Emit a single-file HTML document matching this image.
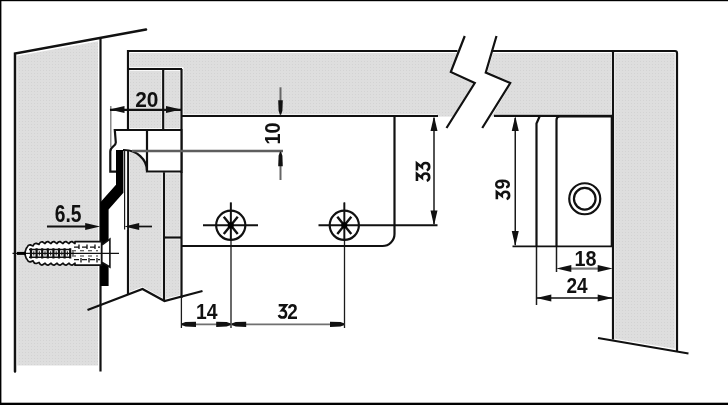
<!DOCTYPE html>
<html><head><meta charset="utf-8">
<style>
html,body{margin:0;padding:0;background:#fff;}
body{width:728px;height:405px;overflow:hidden;font-family:"Liberation Sans",sans-serif;}
svg{display:block;position:absolute;left:0;top:0;}
text{font-family:"Liberation Sans",sans-serif;font-size:22px;font-weight:bold;fill:#111;}
.k{stroke:#111;stroke-width:2.2;fill:none;stroke-linecap:butt;stroke-linejoin:miter;}
.t{stroke:#1a1a1a;stroke-width:1.5;fill:none;}
.g{stroke:#666;stroke-width:1.7;fill:none;}
.f{fill:url(#dots);stroke:none;}
.ah{fill:#111;stroke:none;}
</style></head><body>
<svg width="728" height="405" viewBox="0 0 728 405">
<defs>
<pattern id="dots" width="3" height="3" patternUnits="userSpaceOnUse">
<rect width="3" height="3" fill="#dedede"/><rect x="1" y="1" width="1" height="1" fill="#d3d3d3"/>
</pattern>
</defs>
<rect x="0" y="0" width="728" height="405" fill="#fff"/>
<!-- gray fills -->
<polygon class="f" points="17.2,56 98,41.3 98,365.5 17.2,365.5"/>
<rect class="f" x="130" y="53" width="481" height="14.2"/>
<rect class="f" x="183.5" y="53" width="427.5" height="61.4"/>
<rect class="f" x="130" y="70.8" width="31.5" height="57.4"/>
<rect class="f" x="165" y="70.8" width="14.8" height="57.4"/>
<polygon class="f" points="130,152 147,152 147,173.3 161.8,173.3 161.8,297.5 142.5,286.8 130,291.5"/>
<rect class="f" x="165.8" y="173.3" width="14" height="62.5"/>
<polygon class="f" points="165.8,239.3 179.8,239.3 179.8,295 165.8,298.5"/>
<polygon class="f" points="615,53 674.8,53 674.8,348.8 615,338.8"/>
<rect class="f" x="437" y="112" width="58" height="4.6"/>
<!-- white gap of break -->
<polygon fill="#fff" points="463.5,36 449,72.7 473,83.5 452,117.5 491,117.5 512,82.5 487.5,71.8 498,36"/>
<!-- frame border -->
<rect x="0" y="0" width="728" height="1.2" fill="#000"/>
<rect x="0" y="0" width="1.4" height="405" fill="#000"/>
<rect x="0" y="402.7" width="728" height="2.3" fill="#000"/>
<!-- door -->
<path class="k" style="stroke-width:2.5;stroke-linecap:round" d="M15,371.5 V53.5 L146,29.5"/>
<path class="k" d="M100.5,37.5 V371.5"/>
<!-- cabinet -->
<path class="k" d="M128,295 V51 H457.5"/>
<path class="k" d="M491.5,51 H675 Q677,51 677,53 V351.5"/>
<path class="k" d="M128,69 H182"/>
<path class="k" d="M163.2,69 V130"/>
<path class="k" d="M181.5,69 V298"/>
<path class="k" d="M181.5,116 H438"/>
<path class="k" d="M494,115.9 H613"/>
<path class="k" d="M613,51 V339.5"/>
<path class="k" d="M464.75,36 L450.75,72 L474.75,83 L446.5,128"/>
<path class="k" d="M496.5,36 L485.75,72.5 L510.25,83 L482.25,128"/>
<!-- mounting plate -->
<path class="k" d="M394.5,115 V234 A12,12 0 0 1 382.5,246 H181.5"/>
<!-- cabinet side lower -->
<path class="k" d="M164,171.5 V301"/>
<path class="k" d="M164,237.5 H181.5"/>
<path class="k" d="M87.5,310 L142.5,289 L164.5,301 L202.5,291"/>
<!-- hinge body -->
<path d="M115,130 H181.5 V171.5 H147 V171 A23,21 0 0 0 124,150 H117 V171.5 H110.5 V151 C110.3,146 115.8,147 115.8,142.5 Z" fill="#fff" stroke="#fff" stroke-width="1.6"/>
<rect x="123.5" y="150" width="3.6" height="80" fill="#fff"/>
<path class="k" d="M182,130 H114.8 L115.8,142.5 C115.8,147 110.3,146 110.3,151.5 V171.6 H116"/>
<path class="k" d="M147,130 V171.5 H181.5"/>
<path class="k" d="M123,150 H124 A23,21 0 0 1 147,171"/>
<path class="k" d="M181.5,129 V173"/>
<path d="M116,150 H123.4 V192.7 L108.6,209.5 V286 H100.2 V202.6 L116,184.8 Z" fill="#000"/>
<path class="t" style="stroke-width:1.2" d="M124.6,150 V229.5"/>
<!-- right block -->
<path class="k" d="M540,115.5 L536.5,123.5 V246"/>
<path class="t" d="M536.5,246 V305"/>
<path class="t" d="M556.5,246 V272"/>
<path class="k" d="M556.5,246 V120 Q556.5,116.5 560,116.5 H611.8 V246"/>
<path class="t" style="stroke-width:1.7;stroke:#111" d="M512.5,246.3 H613"/>
<circle class="k" cx="584.75" cy="198.75" r="15.5"/>
<circle class="k" cx="584.75" cy="198.75" r="10.8"/>
<path class="k" d="M598,338 L688.5,353.5"/>
<!-- dimensions -->
<g opacity="0.999">
<path class="g" style="stroke-width:1.3;stroke:#777" d="M110.8,106 V147"/>
<path class="k" d="M110,109.8 H181"/>
<polygon class="ah" points="109.5,109.5 124.5,106.0 124.5,113.0"/>
<polygon class="ah" points="181,109.5 166,106.0 166,113.0"/>
<text transform="translate(146.8,107.2) scale(0.95,1)" text-anchor="middle">20</text>
<path class="g" style="stroke:#5e5e5e;stroke-width:2.4" d="M132,151 H283"/>
<path class="g" style="stroke-width:2" d="M280.5,87.3 V101"/>
<path class="g" style="stroke-width:2" d="M280.5,165 V180"/>
<polygon class="ah" points="279.9,114.8 278.6,110.8 278.2,100.3 282.8,100.3 282.4,110.8 281.1,114.8"/>
<polygon class="ah" points="279.9,151.8 278.6,155.8 278.2,166.3 282.8,166.3 282.4,155.8 281.1,151.8"/>
<text transform="translate(280.3,133.5) rotate(-90) scale(0.9,1)" text-anchor="middle">10</text>
<path class="k" d="M47,226.5 H88"/>
<path class="k" style="stroke-width:1.7" d="M136,226.5 H152"/>
<polygon class="ah" points="100.2,226.5 85.2,223.0 85.2,230.0"/>
<polygon class="ah" points="124.2,226.5 139.2,223.0 139.2,230.0"/>
<text transform="translate(68.1,222.4) scale(0.875,1.1)" text-anchor="middle">6.5</text>
<path class="t" style="stroke-width:1.3" d="M181.4,296 V328"/>
<path class="t" style="stroke-width:1.3" d="M231,202.5 V328"/>
<path class="t" style="stroke-width:1.3" d="M344.5,202.5 V328"/>
<path class="g" style="stroke:#707070" d="M182,324.3 H344.5"/>
<polygon class="ah" points="181.5,323.6 185.5,322.1 196.0,321.7 196.0,326.9 185.5,326.5 181.5,325.0"/>
<polygon class="ah" points="230.7,323.6 226.7,322.1 216.2,321.7 216.2,326.9 226.7,326.5 230.7,325.0"/>
<polygon class="ah" points="231.7,323.6 235.7,322.1 246.2,321.7 246.2,326.9 235.7,326.5 231.7,325.0"/>
<polygon class="ah" points="344.5,323.6 340.5,322.1 330.0,321.7 330.0,326.9 340.5,326.5 344.5,325.0"/>
<text transform="translate(206.7,319.1) scale(0.88,1)" text-anchor="middle">14</text>
<path transform="translate(278.2,303.8) scale(1,1.04)" d="M0.5,1.4 H7.7 L3.9,6.1 C6.4,5.9 7.9,7.6 7.9,9.7 C7.9,11.9 6.4,13.2 4.3,13.2 C2.5,13.2 1.2,12.4 0.6,10.8" fill="none" stroke="#111" stroke-width="2.5" stroke-linejoin="miter" stroke-linecap="butt"/>
<text transform="translate(292.6,319.0) scale(0.86,1)" text-anchor="middle">2</text>
<path class="t" d="M434,118 V224"/>
<polygon class="ah" points="434,116 430.5,131 437.5,131"/>
<polygon class="ah" points="434,225.5 430.5,210.5 437.5,210.5"/>
<g transform="translate(430.4,171.8) rotate(-90)"><path transform="translate(-9.7,-14.9) scale(1,1.04)" d="M0.5,1.4 H7.7 L3.9,6.1 C6.4,5.9 7.9,7.6 7.9,9.7 C7.9,11.9 6.4,13.2 4.3,13.2 C2.5,13.2 1.2,12.4 0.6,10.8" fill="none" stroke="#111" stroke-width="2.5" stroke-linejoin="miter" stroke-linecap="butt"/><path transform="translate(0.8,-14.9) scale(1,1.04)" d="M0.5,1.4 H7.7 L3.9,6.1 C6.4,5.9 7.9,7.6 7.9,9.7 C7.9,11.9 6.4,13.2 4.3,13.2 C2.5,13.2 1.2,12.4 0.6,10.8" fill="none" stroke="#111" stroke-width="2.5" stroke-linejoin="miter" stroke-linecap="butt"/></g>
<path class="t" d="M515.25,118 V245"/>
<polygon class="ah" points="515.25,116 511.75,131 518.75,131"/>
<polygon class="ah" points="515.25,246 511.75,231 518.75,231"/>
<g transform="translate(510.3,189.5) rotate(-90)"><path transform="translate(-10.2,-14.9) scale(1,1.04)" d="M0.5,1.4 H7.7 L3.9,6.1 C6.4,5.9 7.9,7.6 7.9,9.7 C7.9,11.9 6.4,13.2 4.3,13.2 C2.5,13.2 1.2,12.4 0.6,10.8" fill="none" stroke="#111" stroke-width="2.5" stroke-linejoin="miter" stroke-linecap="butt"/><text transform="translate(5.3,0) scale(0.88,1)" text-anchor="middle">9</text></g>
<path class="g" style="stroke:#777;stroke-width:2.2" d="M570,268.6 H599"/>
<polygon class="ah" points="556.3,268.6 571.3,265.1 571.3,272.1"/>
<polygon class="ah" points="612.7,268.6 597.7,265.1 597.7,272.1"/>
<text transform="translate(585.4,265.6) scale(0.9,1)" text-anchor="middle">18</text>
<path class="t" style="stroke:#111;stroke-width:1.7" d="M537,298 H613"/>
<polygon class="ah" points="536.3,298 551.3,294.5 551.3,301.5"/>
<polygon class="ah" points="612.7,298 597.7,294.5 597.7,301.5"/>
<text transform="translate(577,293.3) scale(0.865,1)" text-anchor="middle">24</text>
<path class="t" style="stroke-width:1.8;stroke:#111" d="M230.75,202.5 V240.3"/>
<circle class="k" cx="230.75" cy="225.3" r="14.6"/>
<path class="t" style="stroke-width:2;stroke:#111" d="M203,225.3 H258"/>
<path class="k" style="stroke-width:2.4" d="M223.75,216.70000000000002 L237.75,233.9 M237.75,216.70000000000002 L223.75,233.9"/>
<circle cx="230.75" cy="225.3" r="3.1" fill="#000"/>
<path class="t" style="stroke-width:1.8;stroke:#111" d="M344.3,202.5 V240.3"/>
<circle class="k" cx="344.3" cy="225.3" r="14.6"/>
<path class="t" style="stroke-width:2;stroke:#111" d="M318.5,225.3 H437.5"/>
<path class="k" style="stroke-width:2.4" d="M337.3,216.70000000000002 L351.3,233.9 M351.3,216.70000000000002 L337.3,233.9"/>
<circle cx="344.3" cy="225.3" r="3.1" fill="#000"/>
</g>
<!-- anchor -->
<path d="M24.6,253.4 L26.2,248.60 L27.00,247.50 Q28.20,244.50 30.30,244.90 L33.00,245.94 L33.00,245.94 Q34.20,242.94 36.30,243.34 L39.00,244.38 L39.00,244.38 Q40.20,241.38 42.30,241.78 L45.00,243.60 L45.00,243.60 Q46.20,241.30 48.30,241.70 L51.00,243.60 L51.00,243.60 Q52.20,241.30 54.30,241.70 L57.00,243.60 L57.00,243.60 Q58.20,241.30 60.30,241.70 L63.00,243.60 L63.00,243.60 Q64.20,241.30 66.30,241.70 L69.00,243.60 L69.00,243.60 Q70.20,241.30 72.30,241.70 L75.00,243.60 L75.00,241.60 H101.6 V265.20 H75.00 L75.00,263.20 L72.30,265.10 Q70.20,265.50 69.00,263.20 L69.00,263.20 L66.30,265.10 Q64.20,265.50 63.00,263.20 L63.00,263.20 L60.30,265.10 Q58.20,265.50 57.00,263.20 L57.00,263.20 L54.30,265.10 Q52.20,265.50 51.00,263.20 L51.00,263.20 L48.30,265.10 Q46.20,265.50 45.00,263.20 L45.00,263.20 L42.30,265.02 Q40.20,265.42 39.00,262.42 L39.00,262.42 L36.30,263.46 Q34.20,263.86 33.00,260.86 L33.00,260.86 L30.30,261.90 Q28.20,262.30 27.00,259.30 L26.2,258.20 Z" fill="#fff" stroke="#111" stroke-width="1.7" stroke-linejoin="round"/>
<path d="M29,249.6 H71 M29,257.2 H71" stroke="#111" stroke-width="1.5" fill="none"/>
<path d="M31.0,248.20000000000002 V258.6 M36.6,248.20000000000002 V258.6 M42.2,248.20000000000002 V258.6 M47.8,248.20000000000002 V258.6 M53.4,248.20000000000002 V258.6 M59.0,248.20000000000002 V258.6 M64.6,248.20000000000002 V258.6 M70.2,248.20000000000002 V258.6 " stroke="#111" stroke-width="2.2" fill="none"/>
<path d="M33.8,251.20000000000002 V255.6 M39.4,251.20000000000002 V255.6 M45.0,251.20000000000002 V255.6 M50.6,251.20000000000002 V255.6 M56.2,251.20000000000002 V255.6 M61.8,251.20000000000002 V255.6 M67.4,251.20000000000002 V255.6 M73.0,251.20000000000002 V255.6 " stroke="#333" stroke-width="1.2" fill="none"/>
<path d="M74,247.1 H100 M74,259.7 H100" stroke="#111" stroke-width="1.3" stroke-dasharray="5 3" fill="none"/>
<path d="M72,250.8 H98 M72,256.0 H98" stroke="#333" stroke-width="1.1" stroke-dasharray="4 4" fill="none"/>
<path d="M79,244.4 V248.9 M81,257.9 V262.4 M87,244.4 V248.9 M89,257.9 V262.4 M95,244.4 V248.9 M97,257.9 V262.4 " stroke="#111" stroke-width="1.3" fill="none"/>
<path d="M101.8,245.1 L109.9,239.1 V267.0 L101.8,262.2 Z" fill="#fff" stroke="#111" stroke-width="1.6"/>
<path d="M12.5,253.4 H119" stroke="#111" stroke-width="1.3" fill="none"/>
<path d="M17,253.4 H26" stroke="#000" stroke-width="3" fill="none"/>
</svg>
</body></html>
